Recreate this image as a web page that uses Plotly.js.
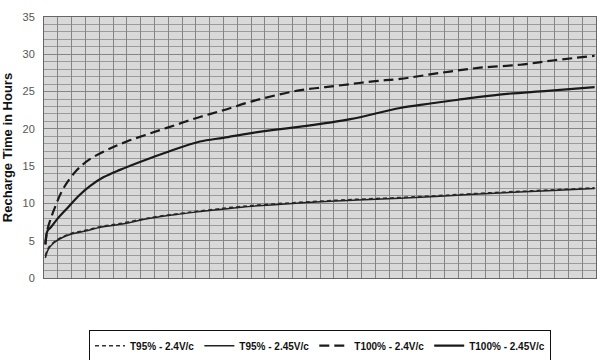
<!DOCTYPE html>
<html>
<head>
<meta charset="utf-8">
<script src="https://cdn.plot.ly/plotly-3.0.1.min.js"></script>
<style>html,body{margin:0;padding:0;background:#fff;}#chart{width:605px;height:360px;}</style>
</head>
<body>
<div id="chart"></div>
<script>
// Series names
var seriesNames = ["T95% - 2.4V/c", "T95% - 2.45V/c", "T100% - 2.4V/c", "T100% - 2.45V/c"];

// T95% - 2.4V/c (thin dashed)
var x95_24 = [0.1, 0.3, 0.7, 1.3, 2, 3, 4.1, 5.5, 7.7, 10, 11.3, 14.3, 18, 22, 25.8, 29, 33, 36.5, 39.9];
var y95_24 = [3.0, 4.0, 4.8, 5.5, 6.0, 6.4, 6.9, 7.3, 8.1, 8.7, 9.0, 9.6, 10.1, 10.5, 10.8, 11.1, 11.5, 11.8, 12.1];

// T95% - 2.45V/c (thin solid)
var x95_245 = [0.1, 0.3, 0.7, 1.3, 2, 3, 4.1, 5.5, 7.7, 10, 11.3, 14.3, 18, 22, 25.8, 29, 33, 36.5, 39.9];
var y95_245 = [2.7, 3.8, 4.7, 5.4, 5.9, 6.3, 6.8, 7.2, 8.0, 8.6, 8.9, 9.5, 10.0, 10.4, 10.7, 11.0, 11.4, 11.7, 12.0];

// T100% - 2.4V/c (heavy dashed)
var x100_24 = [0.1, 0.25, 0.5, 0.8, 1.4, 2.4, 3.3, 4.6, 6, 7.7, 9.5, 11.3, 13, 14.9, 16.8, 18.6, 20.4, 22.2, 24, 25.8, 28.7, 31.6, 34.5, 37, 39.9];
var y100_24 = [4.5, 6.5, 8.0, 9.5, 12.0, 14.5, 15.9, 17.2, 18.3, 19.4, 20.5, 21.6, 22.5, 23.6, 24.5, 25.2, 25.6, 26.0, 26.4, 26.7, 27.5, 28.2, 28.6, 29.2, 29.8];

// T100% - 2.45V/c (heavy solid)
var x100_245 = [0.1, 0.25, 0.5, 1, 1.7, 2.5, 3.3, 4.3, 5.5, 7, 9.1, 11.3, 13, 14.9, 16.8, 18.6, 22.2, 25.8, 28, 30, 33, 36.5, 39.9];
var y100_245 = [4.5, 6.3, 6.8, 8.0, 9.4, 11.0, 12.3, 13.5, 14.5, 15.6, 17.0, 18.3, 18.8, 19.4, 19.9, 20.3, 21.3, 22.8, 23.4, 23.9, 24.6, 25.1, 25.6];

// Y-axis ticks
var yTicks = [0, 5, 10, 15, 20, 25, 30, 35];

var traces = [
  {x: x95_24, y: y95_24, name: seriesNames[0], mode: "lines", line: {color: "#333", width: 1.5, dash: "4px,3px", shape: "spline"}},
  {x: x95_245, y: y95_245, name: seriesNames[1], mode: "lines", line: {color: "#222", width: 1.5, shape: "spline"}},
  {x: x100_24, y: y100_24, name: seriesNames[2], mode: "lines", line: {color: "#1a1a1a", width: 2.2, dash: "10px,5px", shape: "spline"}},
  {x: x100_245, y: y100_245, name: seriesNames[3], mode: "lines", line: {color: "#1a1a1a", width: 2.2, shape: "spline"}}
];

var layout = {
  width: 605, height: 360,
  margin: {l: 44, r: 9, t: 17, b: 82, autoexpand: false},
  paper_bgcolor: "#ffffff",
  plot_bgcolor: "#d9d9d9",
  font: {family: "Liberation Sans, Arial, sans-serif", color: "#222"},
  xaxis: {
    range: [0, 40], dtick: 1, showticklabels: false, ticks: "",
    showgrid: true, gridcolor: "#858585", gridwidth: 1,
    zeroline: false, showline: true, linecolor: "#666", linewidth: 1, mirror: true
  },
  yaxis: {
    range: [0, 35], tickvals: yTicks, ticktext: yTicks.map(String),
    ticks: "", showgrid: true, gridcolor: "#858585", gridwidth: 1,
    minor: {dtick: 1, showgrid: true, gridcolor: "#9a9a9a", gridwidth: 1},
    zeroline: false, showline: true, linecolor: "#666", linewidth: 1, mirror: true,
    tickfont: {size: 11, color: "#555"}, ticklabelstandoff: 6,
    title: {text: "Recharge Time in Hours", font: {size: 13, color: "#111", weight: "bold"}, standoff: 16}
  },
  showlegend: true,
  legend: {
    orientation: "h", x: 0.5, xanchor: "center", y: -0.2, yanchor: "top",
    bordercolor: "#111", borderwidth: 1, bgcolor: "#fff",
    font: {size: 10, color: "#111", weight: "bold"},
    itemwidth: 30, tracegroupgap: 0
  }
};

Plotly.newPlot("chart", traces, layout, {displayModeBar: false, staticPlot: true});
</script>
</body>
</html>
